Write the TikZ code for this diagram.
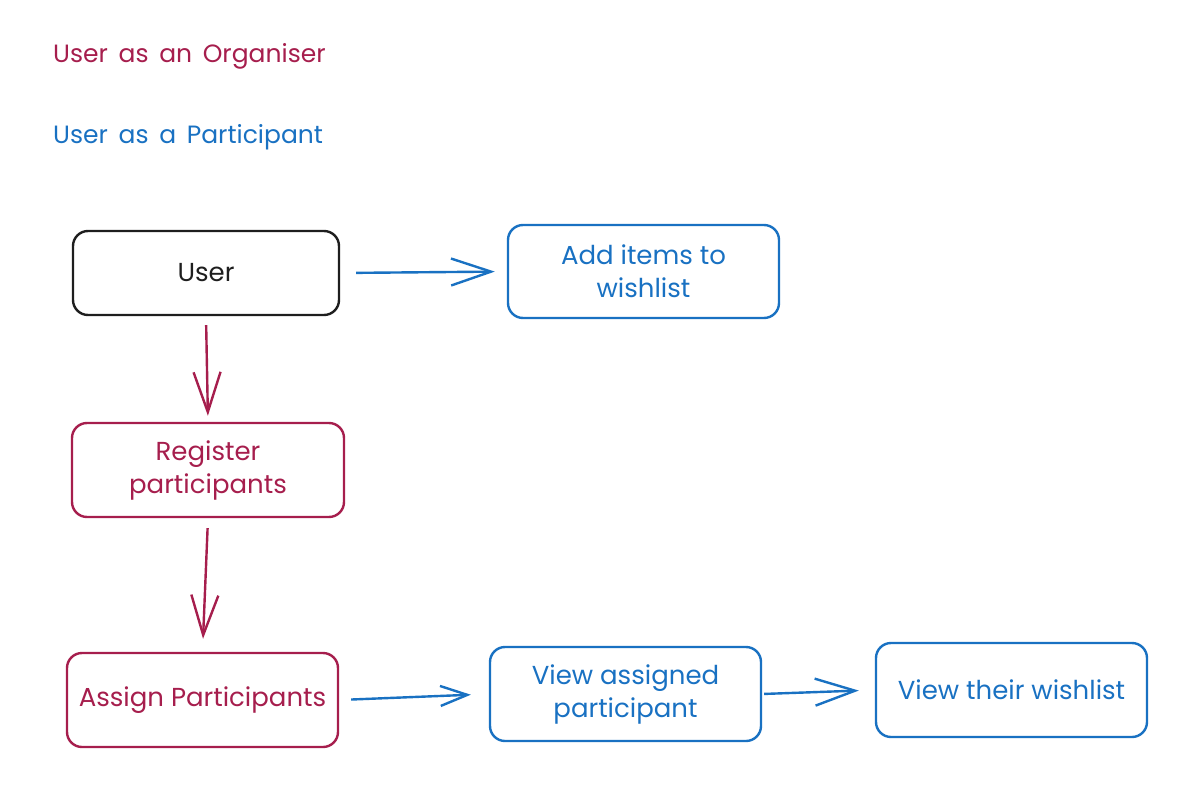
\documentclass[tikz,border=0pt]{standalone}
\usepackage{fontspec}
\setmainfont{Poppins}
\usetikzlibrary{arrows.meta}
\definecolor{crim}{HTML}{A61E4D}
\definecolor{blu}{HTML}{1971C2}
\definecolor{blk}{HTML}{1E1E1E}
\newfontfamily\ttlfont[WordSpace=1.6]{Poppins}
\tikzset{
  box/.style={draw, line width=2.4pt, rounded corners=15pt, minimum width=#1, minimum height=94pt, inner sep=0pt, align=center, font=\fontsize{26}{33}\selectfont},
  box/.default=271pt,
  arr/.style={line width=2.4pt, -{Straight Barb[length=40pt,width=27pt,line width=2.4pt]}},
  arrs/.style={line width=2.4pt, -{Straight Barb[length=27pt,width=20pt,line width=2.4pt]}},
  ttl/.style={anchor=base west, inner sep=0pt, font=\ttlfont\fontsize{25}{30}\selectfont}
}
\begin{document}
\begin{tikzpicture}[x=1pt,y=-1pt]
\useasboundingbox (0,0) rectangle (1202,792);
\node[ttl, text=crim] (t1) at (53,63) {User as an Organiser};
\node[ttl, text=blu] (t2) at (53,143) {User as a Participant};

\node[box=266pt, minimum height=84pt, draw=blk, text=blk] (user) at (206,273) {User};
\node[box, minimum height=93pt, draw=blu, text=blu] (add) at (643.5,271.5) {Add items to\\wishlist};
\node[box=272pt, draw=crim, text=crim] (reg) at (208,470) {Register\\participants};
\node[box, draw=crim, text=crim] (assign) at (202.5,700) {Assign Participants};
\node[box, draw=blu, text=blu] (view) at (625.5,694) {View assigned\\participant};
\node[box, draw=blu, text=blu] (their) at (1011.5,690) {View their wishlist};

\draw[arr, blu, shorten <=16pt, shorten >=12pt] (user.east) -- (add.west);
\draw[arr, crim, shorten <=9pt, shorten >=6pt] (user.south) -- (reg.north);
\draw[arr, crim, shorten <=10pt, shorten >=13pt] (reg.south) -- (assign.north);
\draw[arrs, blu, shorten <=12pt, shorten >=18pt] (assign.east) -- (view.west);
\draw[arr, blu, shorten <=2pt, shorten >=16pt] (view.east) -- (their.west);
\end{tikzpicture}
\end{document}
